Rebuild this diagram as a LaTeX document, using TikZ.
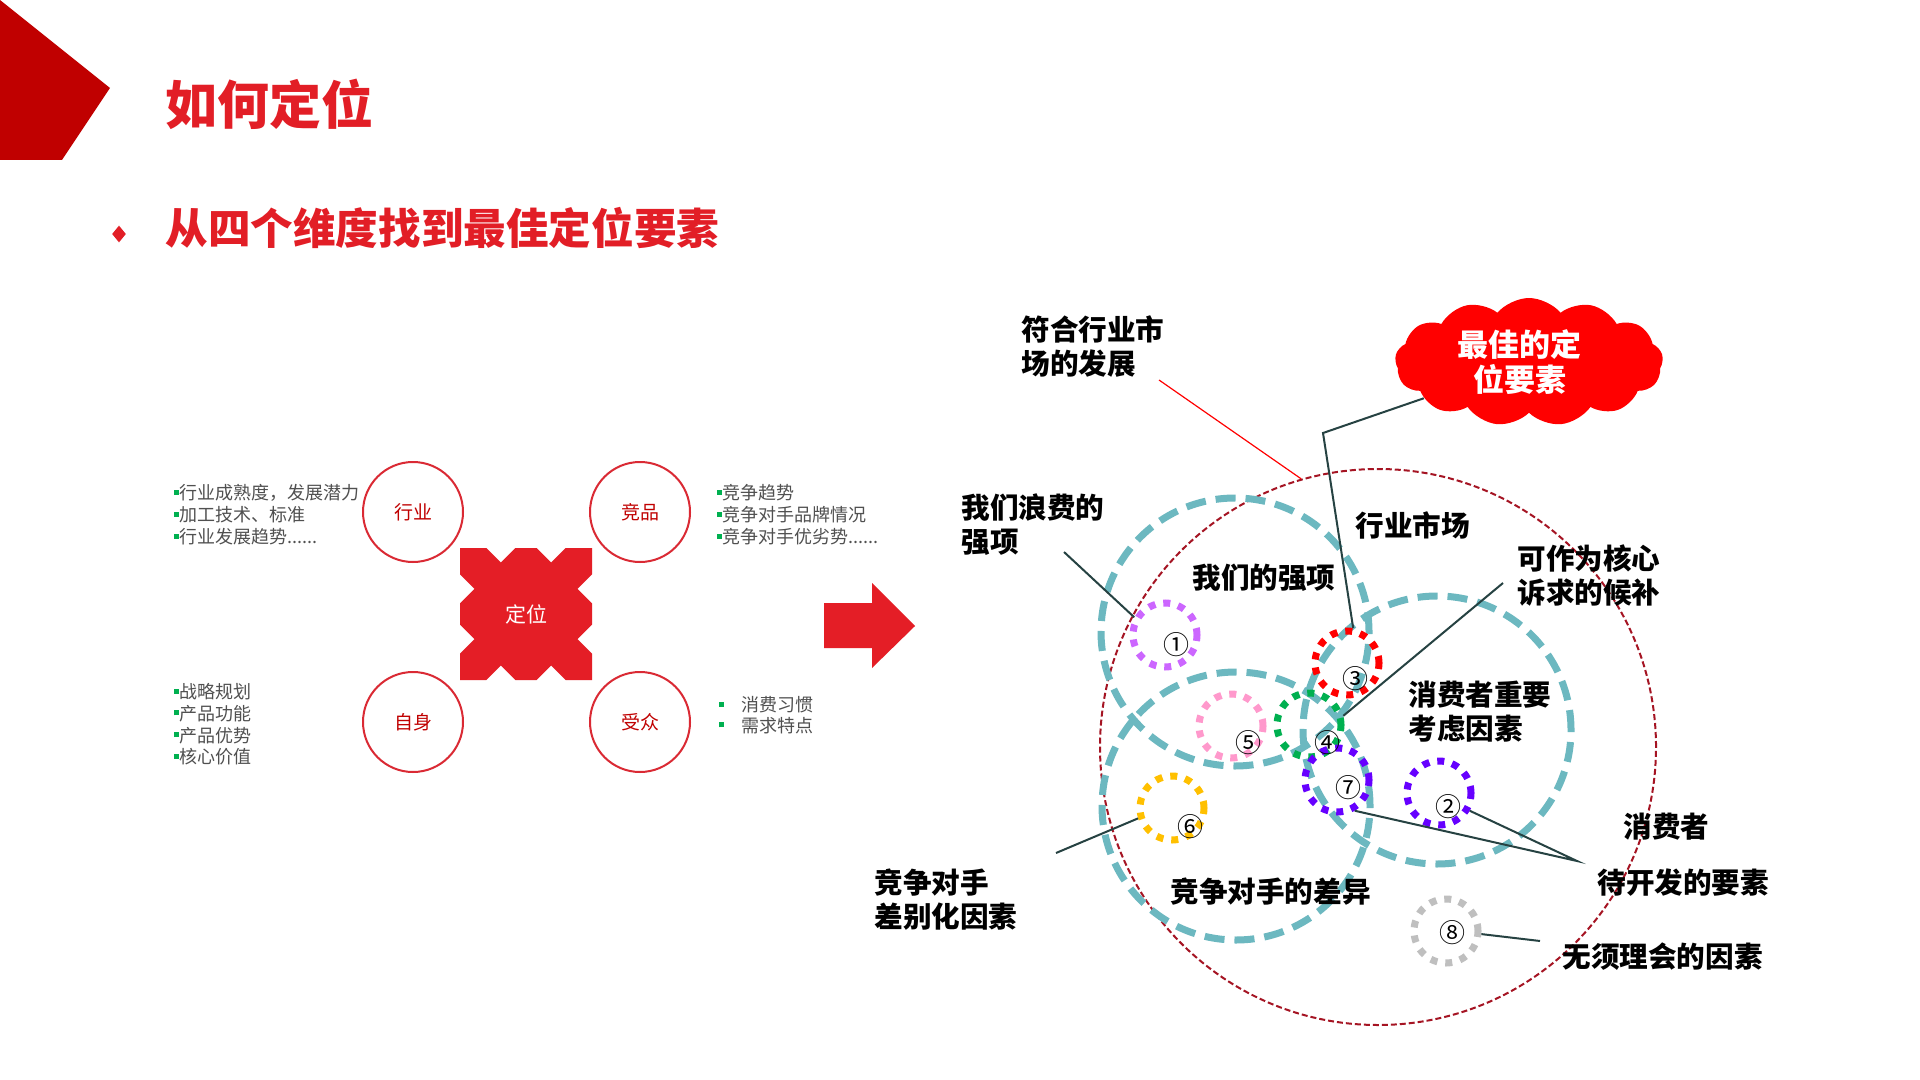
\documentclass[tikz,border=0pt]{standalone}
\usepackage{fontspec}
\setmainfont{Noto Sans CJK SC}
\usetikzlibrary{shapes.geometric,shapes.symbols}

\definecolor{pentRed}{RGB}{192,0,0}
\definecolor{titleRed}{RGB}{226,30,38}
\definecolor{crossRed}{RGB}{228,30,38}
\definecolor{ringRed}{RGB}{218,42,52}
\definecolor{darkRed}{RGB}{192,0,0}
\definecolor{textGray}{RGB}{80,80,80}
\definecolor{bulletGreen}{RGB}{0,176,80}
\definecolor{vennTeal}{RGB}{108,184,192}
\definecolor{bigRed}{RGB}{165,20,35}
\definecolor{leaderGray}{RGB}{38,66,66}
\definecolor{cloudRed}{RGB}{255,0,0}
\definecolor{dotViolet}{RGB}{204,102,255}
\definecolor{dotBlue}{RGB}{102,0,255}
\definecolor{dotRed}{RGB}{255,0,0}
\definecolor{dotGreen}{RGB}{0,176,80}
\definecolor{dotPink}{RGB}{255,153,204}
\definecolor{dotGold}{RGB}{255,192,0}
\definecolor{dotGray}{RGB}{191,191,191}

\newcommand{\greenBullet}{\textcolor{bulletGreen}{\rule[0.28em]{0.28em}{0.28em}}}
\newcommand{\sixDots}{......}

\begin{document}
\begin{tikzpicture}[x=0.5pt, y=-0.5pt,
    ring/.style = {draw=ringRed, line width=1pt, circle, minimum size=50pt, inner sep=0pt, text=darkRed, font=\fontsize{9.5}{11}\selectfont},
    listText/.style = {anchor=west, inner sep=0pt, text=textGray, font=\fontsize{9}{11}\selectfont},
    venn/.style = {draw=vennTeal, line width=3.5pt, dash pattern=on 10pt off 5pt, circle, minimum size=134pt, inner sep=0pt},
    dotRing/.style = {line width=3.5pt, dash pattern=on 3.5pt off 4pt, circle, minimum size=32pt, inner sep=0pt},
    digit/.style = {inner sep=0pt, font=\fontsize{13}{13}\selectfont},
    vennLabel/.style = {anchor=west, align=left, inner sep=0pt, font=\bfseries\fontsize{14.3}{17}\selectfont},
    leader/.style = {draw=leaderGray, line width=1pt}]
        \useasboundingbox (0,0) rectangle (1920,1080);
        \fill[white] (0,0) rectangle (1920,1080);

        % Title bar
        \fill[pentRed] (0,0) -- (110,88) -- (62,160) -- (0,160) -- cycle;
        \node[anchor=west, inner sep=0pt, text=titleRed, font=\bfseries\fontsize{26}{26}\selectfont] (title) at (165,104) {如何定位};
        \node[diamond, fill=titleRed, minimum width=7pt, minimum height=8.5pt, inner sep=0pt] (bullet) at (119,234) {};
        \node[anchor=west, inner sep=0pt, text=titleRed, font=\bfseries\fontsize{21.3}{21.3}\selectfont] (subtitle) at (165,228) {从四个维度找到最佳定位要素};

        % Drawing the positioning cross
        \def\crossX{526}
        \def\crossY{614}
        \begin{scope}[shift={(\crossX,\crossY)}, x=33pt, y=33pt]
            \fill[crossRed] (1,1) -- (1,.6) -- (.78,.38) -- (1,.16) -- (1,-.16) -- (.78,-.38) -- (1,-.6) -- (1,-1)
                -- (.6,-1) -- (.38,-.78) -- (.16,-1) -- (-.16,-1) -- (-.38,-.78) -- (-.6,-1) -- (-1,-1)
                -- (-1,-.6) -- (-.78,-.38) -- (-1,-.16) -- (-1,.16) -- (-.78,.38) -- (-1,.6) -- (-1,1)
                -- (-.6,1) -- (-.38,.78) -- (-.16,1) -- (.16,1) -- (.38,.78) -- (.6,1) -- cycle;
        \end{scope}
        \node[text=white, font=\fontsize{10.5}{10.5}\selectfont] (center) at (\crossX,\crossY) {定位};

        % Drawing the four dimensions
        \foreach \name/\xPos/\yPos [count=\i] in {行业/413/512, 竞品/640/512, 自身/413/722, 受众/640/722}{
            \node[ring] (dim-\i) at (\xPos,\yPos) {\name};
          }

        % Bullet lists beside the dimensions
        \foreach \txt [count=\k] in {行业成熟度，发展潜力, 加工技术、标准, 行业发展趋势\sixDots}{
            \node[listText] (ind-\k) at (174, {493+22*(\k-1)}) {\greenBullet\txt};
          }
        \foreach \txt [count=\k] in {竞争趋势, 竞争对手品牌情况, 竞争对手优劣势\sixDots}{
            \node[listText] (comp-\k) at (717, {493+22*(\k-1)}) {\greenBullet\txt};
          }
        \foreach \txt [count=\k] in {战略规划, 产品功能, 产品优势, 核心价值}{
            \node[listText] (self-\k) at (174, {692+21.7*(\k-1)}) {\greenBullet\txt};
          }
        \foreach \txt [count=\k] in {消费习惯, 需求特点}{
            \node[listText] (aud-\k) at (719, {705+20.5*(\k-1)}) {\greenBullet\hspace{0.95em}\txt};
          }

        % Arrow to the right diagram
        \fill[crossRed] (824,603) -- (872,603) -- (872,583) -- (915,626) -- (872,668) -- (872,648) -- (824,648) -- cycle;

        % Drawing the market circle and the three teal circles
        \node[draw=bigRed, line width=1pt, dash pattern=on 3pt off 1.5pt, circle, minimum size=278pt, inner sep=0pt] (market) at (1378,747) {};
        \foreach \xPos/\yPos [count=\i] in {1235/632, 1437/730, 1236/806}{
            \node[venn] (ring-\i) at (\xPos,\yPos) {};
          }

        % Numbered element circles
        \foreach \clr/\xPos/\yPos [count=\i] in {dotViolet/1165/635, dotBlue/1439/793, dotRed/1347/663, dotGreen/1309/725,
                                                 dotPink/1231/726, dotGold/1172/808, dotBlue/1337/780, dotGray/1446/931}{
            \node[dotRing, draw=\clr] (dot-\i) at (\xPos,\yPos) {};
          }
        \foreach \num/\xPos/\yPos [count=\i] in {①/1176/645, ②/1448/807, ③/1355/679, ④/1327/743,
                                                 ⑤/1248/743, ⑥/1190/827, ⑦/1348/788, ⑧/1452/933}{
            \node[digit] (num-\i) at (\xPos,\yPos) {\num};
          }

        % Labels
        \node[vennLabel] (lbl-fit) at (1021,347) {符合行业市\\场的发展};
        \node[vennLabel] (lbl-waste) at (961,525) {我们浪费的\\强项};
        \node[vennLabel] (lbl-market) at (1355,525) {行业市场};
        \node[vennLabel] (lbl-strength) at (1192,578) {我们的强项};
        \node[vennLabel] (lbl-core) at (1517,575) {可作为核心\\诉求的候补};
        \node[vennLabel] (lbl-key) at (1408,712) {消费者重要\\考虑因素};
        \node[vennLabel] (lbl-consumer) at (1623,827) {消费者};
        \node[vennLabel] (lbl-develop) at (1597,883) {待开发的要素};
        \node[vennLabel] (lbl-diff) at (874,900) {竞争对手\\差别化因素};
        \node[vennLabel] (lbl-compdiff) at (1170,892) {竞争对手的差异};
        \node[vennLabel] (lbl-ignore) at (1562,957) {无须理会的因素};

        \node[cloud, cloud puffs=13, cloud puff arc=100, aspect=2.1, fill=cloudRed, minimum width=134pt, minimum height=64pt, inner sep=0pt,
              align=center, text=white, font=\bfseries\fontsize{15.5}{17.5}\selectfont] (best) at (1529,362) {最佳的定\hspace*{0.6em}\\位要素\hspace*{0.6em}};

        % Leader lines
        \coordinate (fit-end) at (1159,380);
        \coordinate (best-bend) at (1323,433);
        \coordinate (waste-end) at (1064,552);
        \coordinate (core-end) at (1503,583);
        \coordinate (diff-end) at (1056,853);
        \coordinate (dev-end) at (1577,861);
        \coordinate (ign-end) at (1540,941);
        \draw[red, line width=0.6pt] (fit-end) -- (market.106);
        \draw[leader] (best) -- (best-bend) -- (dot-3.80);
        \draw[leader] (waste-end) -- (dot-1.150);
        \draw[leader] (core-end) -- (dot-4.15);
        \draw[leader] (diff-end) -- (dot-6.197);
        \draw[leader] (dot-7.-60) -- (dev-end) -- (dot-2.-30);
        \draw[leader] (dot-8.-5) -- (ign-end);
      \end{tikzpicture}
\end{document}
